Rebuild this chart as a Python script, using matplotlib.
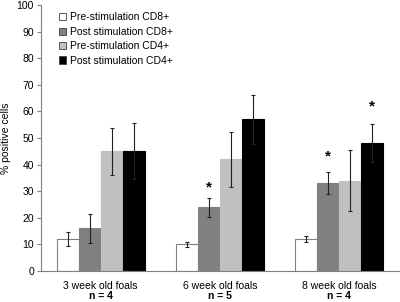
import matplotlib
matplotlib.use("Agg")
import matplotlib.pyplot as plt
import numpy as np
from matplotlib.transforms import blended_transform_factory

plt.rcParams['font.family'] = ['Liberation Sans', 'DejaVu Sans']

groups = ["3 week old foals", "6 week old foals", "8 week old foals"]
n_labels = ["n = 4", "n = 5", "n = 4"]
series = ["Pre-stimulation CD8+", "Post stimulation CD8+",
          "Pre-stimulation CD4+", "Post stimulation CD4+"]
values = [
    [12, 10, 12],
    [16, 24, 33],
    [45, 42, 34],
    [45, 57, 48],
]
errors = [
    [2.7, 1.0, 1.2],
    [5.5, 3.6, 4.2],
    [8.8, 10.4, 11.4],
    [10.6, 9.3, 7.2],
]
# asterisks: (series index, group index, y position)
stars = [(1, 1, 31.3), (1, 2, 43.0), (3, 2, 61.8)]

colors = ["#ffffff", "#808080", "#c0c0c0", "#000000"]
edgecolors = ["#808080", "#808080", "#c0c0c0", "#000000"]

fig = plt.figure(figsize=(4.0, 3.02), dpi=100)
ax = fig.add_axes([0.1025, 0.103, 0.895, 0.880])

x = np.arange(len(groups))
w = 0.184
for i in range(len(series)):
    pos = x + (i - 1.5) * w
    ax.bar(pos, values[i], width=w, color=colors[i], edgecolor=edgecolors[i],
           linewidth=0.8, label=series[i], zorder=2)
    ax.errorbar(pos, values[i], yerr=errors[i], fmt='none', ecolor='#222222',
                elinewidth=0.8, capsize=1.5, capthick=0.8, zorder=3)

for si, gi, yv in stars:
    ax.text(x[gi] + (si - 1.5) * w, yv, "*", ha='center', va='center',
            fontsize=11, fontweight='bold', color='black')

ax.set_xlim(-0.5, 2.5)
ax.set_ylim(0, 100)
ax.set_yticks(np.arange(0, 101, 10))
ax.tick_params(axis='y', labelsize=7.5, length=3, color='#808080', pad=2)
ax.set_xticks(x)
ax.set_xticklabels(groups, fontsize=7.5)
ax.tick_params(axis='x', length=0, pad=7)
trans = blended_transform_factory(ax.transData, ax.transAxes)
for xi, nl in zip(x, n_labels):
    ax.text(xi, -0.077, nl, transform=trans, ha='center', va='top',
            fontsize=7.5, fontweight='bold')

for s in ['top', 'right']:
    ax.spines[s].set_visible(False)
for s in ['left', 'bottom']:
    ax.spines[s].set_color('#808080')
    ax.spines[s].set_linewidth(0.8)

ax.set_ylabel("% positive cells", fontsize=7.5, labelpad=4)

leg = ax.legend(loc='upper left', bbox_to_anchor=(0.03, 1.0), frameon=False,
                fontsize=7.5, handlelength=0.7, handleheight=0.7,
                handletextpad=0.4, labelspacing=0.42, borderaxespad=0.3)
for h in leg.legend_handles:
    h.set_edgecolor('#404040')
    h.set_linewidth(0.6)

fig.savefig("out.png", dpi=100)
